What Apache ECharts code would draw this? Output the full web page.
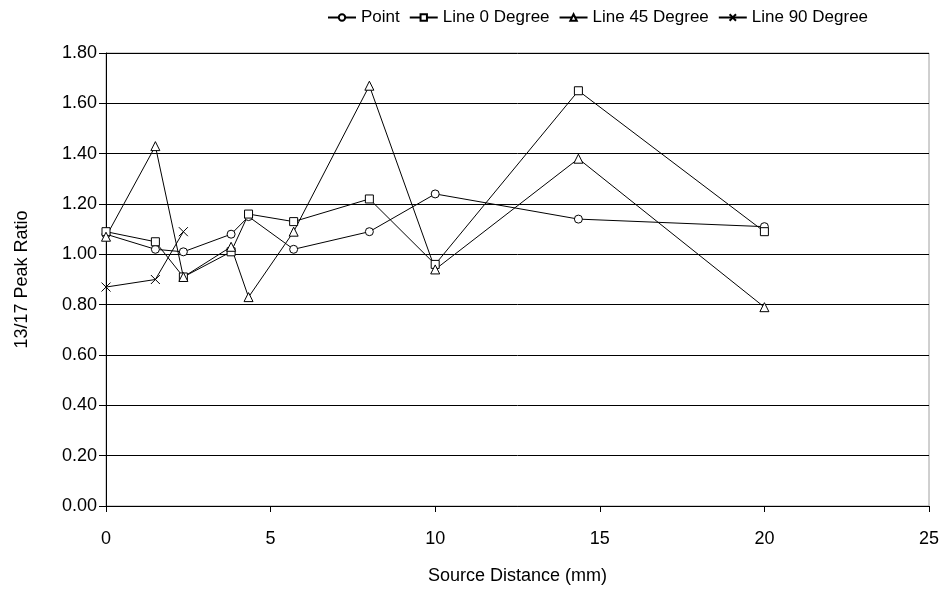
<!DOCTYPE html>
<html>
<head>
<meta charset="utf-8">
<script src="https://cdn.jsdelivr.net/npm/echarts@6/dist/echarts.min.js"></script>
<style>
  html, body { margin: 0; padding: 0; background: #fff; }
  #chart { width: 945px; height: 590px; }
</style>
</head>
<body>
<div id="chart"></div>
<script>
// Source distance (mm) for each measurement position
const distances = [0, 1.5, 2.35, 3.8, 4.33, 5.7, 8, 10, 14.35, 20];
const distances90 = [0, 1.5, 2.35];

// 13/17 peak ratios per source geometry
const pointRatio  = [1.08, 1.02, 1.01, 1.08, 1.15, 1.02, 1.09, 1.24, 1.14, 1.11];
const line0Ratio  = [1.09, 1.05, 0.91, 1.01, 1.16, 1.13, 1.22, 0.96, 1.65, 1.09];
const line45Ratio = [1.07, 1.43, 0.91, 1.03, 0.83, 1.09, 1.67, 0.94, 1.38, 0.79];
const line90Ratio = [0.87, 0.90, 1.09];

const seriesNames = ['Point', 'Line 0 Degree', 'Line 45 Degree', 'Line 90 Degree'];
const yTicks = { min: 0, max: 1.8, step: 0.2 };
const xTicks = { min: 0, max: 25, step: 5 };

const FONT = '"Liberation Sans", Arial, sans-serif';

function pairs(xs, ys) {
  return ys.map((y, i) => [xs[i], y]);
}

const crossPath = 'path://M0,0L10,10M10,0L0,10';

function makeSeries(name, data, symbol, size) {
  return {
    name: name,
    type: 'line',
    data: data,
    symbol: symbol,
    symbolSize: size,
    showAllSymbol: true,
    lineStyle: { color: '#000', width: 1 },
    itemStyle: { color: '#fff', borderColor: '#000', borderWidth: 1 },
    emphasis: { disabled: true },
    z: 3
  };
}

const chart = echarts.init(document.getElementById('chart'), null, { renderer: 'canvas' });

chart.setOption({
  animation: false,
  backgroundColor: '#fff',
  textStyle: { fontFamily: FONT, color: '#000' },
  legend: {
    top: 4,
    left: 322,
    itemWidth: 28,
    itemHeight: 8,
    itemGap: 9,
    textStyle: { fontFamily: FONT, fontSize: 17, color: '#000' },
    data: seriesNames
  },
  grid: {
    left: 106,
    right: 16,
    top: 53,
    bottom: 82,
    show: true,
    borderColor: '#a0a0a0',
    borderWidth: 1
  },
  xAxis: {
    type: 'value',
    min: xTicks.min,
    max: xTicks.max,
    interval: xTicks.step,
    name: 'Source Distance (mm)',
    nameLocation: 'middle',
    nameGap: 61,
    nameTextStyle: { fontFamily: FONT, fontSize: 18, color: '#000' },
    axisLine: { lineStyle: { color: '#000', width: 1 } },
    axisTick: { show: true, inside: false, length: 6, lineStyle: { color: '#000' } },
    axisLabel: { margin: 24, fontFamily: FONT, fontSize: 18, color: '#000' },
    splitLine: { show: false }
  },
  yAxis: {
    type: 'value',
    min: yTicks.min,
    max: yTicks.max,
    interval: yTicks.step,
    name: '13/17 Peak Ratio',
    nameLocation: 'middle',
    nameGap: 75,
    nameTextStyle: { fontFamily: FONT, fontSize: 18, color: '#000' },
    axisLine: { show: true, lineStyle: { color: '#000', width: 1 } },
    axisTick: { show: true, inside: false, length: 7, lineStyle: { color: '#000' } },
    axisLabel: {
      margin: 9,
      fontFamily: FONT,
      fontSize: 18,
      color: '#000',
      formatter: v => v.toFixed(2)
    },
    splitLine: { show: true, lineStyle: { color: '#000', width: 1 } }
  },
  series: [
    makeSeries('Point', pairs(distances, pointRatio), 'circle', 8),
    makeSeries('Line 0 Degree', pairs(distances, line0Ratio), 'rect', 8),
    makeSeries('Line 45 Degree', pairs(distances, line45Ratio), 'triangle', 9),
    makeSeries('Line 90 Degree', pairs(distances90, line90Ratio), crossPath, 9)
  ]
});
</script>
</body>
</html>
